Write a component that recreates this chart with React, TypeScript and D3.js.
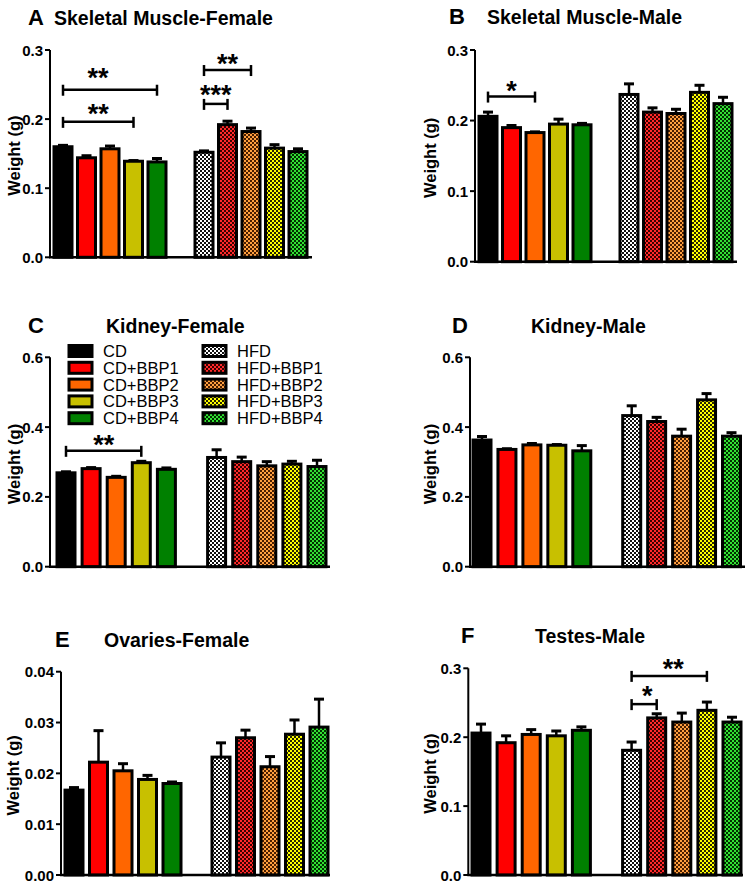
import React from "react";
import * as d3 from "d3";

const groups = ["CD", "CD+BBP1", "CD+BBP2", "CD+BBP3", "CD+BBP4", "HFD", "HFD+BBP1", "HFD+BBP2", "HFD+BBP3", "HFD+BBP4"];
const slots = [...groups.slice(0, 5), "gap", ...groups.slice(5)];

const muscleFemaleMean = [0.160, 0.144, 0.157, 0.139, 0.138, 0.152, 0.192, 0.182, 0.158, 0.153];
const muscleFemaleSem = [0.002, 0.003, 0.004, 0.001, 0.005, 0.002, 0.005, 0.005, 0.005, 0.004];
const muscleMaleMean = [0.206, 0.190, 0.183, 0.195, 0.194, 0.237, 0.212, 0.210, 0.240, 0.224];
const muscleMaleSem = [0.006, 0.003, 0.001, 0.007, 0.002, 0.015, 0.006, 0.006, 0.010, 0.009];
const kidneyFemaleMean = [0.269, 0.281, 0.256, 0.298, 0.279, 0.313, 0.301, 0.289, 0.294, 0.287];
const kidneyFemaleSem = [0.003, 0.003, 0.003, 0.004, 0.004, 0.022, 0.013, 0.012, 0.008, 0.018];
const kidneyMaleMean = [0.363, 0.336, 0.349, 0.348, 0.332, 0.433, 0.416, 0.374, 0.478, 0.374];
const kidneyMaleSem = [0.010, 0.002, 0.004, 0.002, 0.015, 0.028, 0.012, 0.020, 0.018, 0.010];
const ovariesMean = [0.0167, 0.0222, 0.0205, 0.0188, 0.0180, 0.0232, 0.0270, 0.0213, 0.0277, 0.0291];
const ovariesSem = [0.0005, 0.0062, 0.0014, 0.0008, 0.0003, 0.0028, 0.0015, 0.0020, 0.0028, 0.0055];
const testesMean = [0.206, 0.192, 0.204, 0.202, 0.210, 0.181, 0.228, 0.222, 0.239, 0.222];
const testesSem = [0.013, 0.010, 0.007, 0.007, 0.005, 0.012, 0.006, 0.013, 0.012, 0.007];

const ticks03 = [0, 0.1, 0.2, 0.3];
const ticks06 = [0, 0.2, 0.4, 0.6];
const ticks004 = [0, 0.01, 0.02, 0.03, 0.04];

const sigA = [
  { from: "CD", to: "CD+BBP4", y: 0.2425, label: "**", dx: -12, dy: -4 },
  { from: "CD", to: "CD+BBP3", y: 0.196, label: "**", dx: 0, dy: 0 },
  { from: "HFD", to: "HFD+BBP2", y: 0.271, label: "**", dx: 0, dy: 2 },
  { from: "HFD", to: "HFD+BBP1", y: 0.222, label: "***", dx: 0, dy: -1 },
];
const sigB = [{ from: "CD", to: "CD+BBP2", y: 0.234, label: "*", dx: 0, dy: 2 }];
const sigC = [{ from: "CD", to: "CD+BBP3", y: 0.332, label: "**", dx: 0, dy: 2 }];
const sigF = [
  { from: "HFD", to: "HFD+BBP3", y: 0.289, label: "**", dx: 4, dy: 1 },
  { from: "HFD", to: "HFD+BBP1", y: 0.248, label: "*", dx: 3, dy: 0 },
];

const solidColors = ["#000000", "#ff0000", "#ff6600", "#c8c000", "#008000"];
const hatchColors = ["#ffffff", "#ff2a2a", "#ffa040", "#ffff00", "#33e033"];
const hatchDarks = ["#111111", "#3a0000", "#4a1e00", "#262600", "#003000"];

const panels = [
  { letter: "A", title: "Skeletal Muscle-Female", mean: muscleFemaleMean, sem: muscleFemaleSem, ticks: ticks03, fmt: ".1f", sig: sigA,
    axisX: 50, yTop: 50, yBottom: 257.3, max: 0.3, firstCenter: 63, slot: 23.5, axisEnd: 312, letterX: 28, titleX: 54, titleY: 25, labelX: 14 },
  { letter: "B", title: "Skeletal Muscle-Male", mean: muscleMaleMean, sem: muscleMaleSem, ticks: ticks03, fmt: ".1f", sig: sigB,
    axisX: 475, yTop: 50, yBottom: 261.7, max: 0.3, firstCenter: 488, slot: 23.5, axisEnd: 737, letterX: 449, titleX: 487, titleY: 24, labelX: 430 },
  { letter: "C", title: "Kidney-Female", mean: kidneyFemaleMean, sem: kidneyFemaleSem, ticks: ticks06, fmt: ".1f", sig: sigC,
    axisX: 50, yTop: 357.3, yBottom: 566.7, max: 0.6, firstCenter: 66, slot: 25.1, axisEnd: 330, letterX: 28, titleX: 106, titleY: 333, labelX: 14 },
  { letter: "D", title: "Kidney-Male", mean: kidneyMaleMean, sem: kidneyMaleSem, ticks: ticks06, fmt: ".1f", sig: [],
    axisX: 470, yTop: 357.3, yBottom: 566.7, max: 0.6, firstCenter: 482, slot: 24.95, axisEnd: 745, letterX: 452, titleX: 531, titleY: 332.7, labelX: 430 },
  { letter: "E", title: "Ovaries-Female", mean: ovariesMean, sem: ovariesSem, ticks: ticks004, fmt: ".2f", sig: [],
    axisX: 61, yTop: 671.7, yBottom: 875, max: 0.04, firstCenter: 74, slot: 24.5, axisEnd: 330, letterX: 55, titleX: 104, titleY: 646.7, labelX: 12.5 },
  { letter: "F", title: "Testes-Male", mean: testesMean, sem: testesSem, ticks: ticks03, fmt: ".1f", sig: sigF,
    axisX: 468.3, yTop: 668.3, yBottom: 875, max: 0.3, firstCenter: 481, slot: 25.1, axisEnd: 743, letterX: 461, titleX: 535, titleY: 643.3, labelX: 430 },
];

const FONT = "'Liberation Sans', Arial, Helvetica, sans-serif";
const BAR_W = 18;

function fillFor(i: number) {
  return i < 5 ? solidColors[i] : `url(#hatch${i - 5})`;
}

function Panel({ p }: { p: any }) {
  const x = d3
    .scaleBand<string>()
    .domain(slots)
    .range([p.firstCenter - p.slot / 2, p.firstCenter + p.slot * 10.5])
    .paddingInner(1 - BAR_W / p.slot)
    .paddingOuter((1 - BAR_W / p.slot) / 2);
  const y = d3.scaleLinear().domain([0, p.max]).range([p.yBottom, p.yTop]);
  const fmt = d3.format(p.fmt);
  const bw = x.bandwidth();
  const cx = (g: string) => (x(g) as number) + bw / 2;
  return (
    <g>
      <text x={p.letterX} y={p.titleY} fontFamily={FONT} fontWeight="bold" fontSize={22}>{p.letter}</text>
      <text x={p.titleX} y={p.titleY} fontFamily={FONT} fontWeight="bold" fontSize={19.5}>{p.title}</text>
      <text
        transform={`translate(${p.labelX},${(p.yTop + p.yBottom) / 2 + 2}) rotate(-90)`}
        textAnchor="middle"
        dominantBaseline="central"
        fontFamily={FONT}
        fontWeight="bold"
        fontSize={16.5}
      >
        Weight (g)
      </text>
      {groups.map((g, i) => {
        const v = p.mean[i];
        const top = y(v);
        const errTop = y(v + p.sem[i]);
        const c = cx(g);
        return (
          <g key={g}>
            <line x1={c} x2={c} y1={top} y2={errTop} stroke="#000" strokeWidth={2.5} />
            <line x1={c - 5} x2={c + 5} y1={errTop} y2={errTop} stroke="#000" strokeWidth={3} />
            <rect x={x(g)} y={top} width={bw} height={y(0) - top} fill={fillFor(i)} stroke="#000" strokeWidth={3} />
          </g>
        );
      })}
      <line x1={p.axisX} x2={p.axisX} y1={p.yTop} y2={p.yBottom} stroke="#000" strokeWidth={2} />
      <line x1={p.axisX - 1} x2={p.axisEnd} y1={p.yBottom} y2={p.yBottom} stroke="#000" strokeWidth={2.5} />
      {p.ticks.map((t: number) => (
        <g key={t}>
          <line x1={p.axisX - 5} x2={p.axisX} y1={y(t)} y2={y(t)} stroke="#000" strokeWidth={2} />
          <text
            x={p.axisX - 7}
            y={y(t)}
            textAnchor="end"
            dominantBaseline="central"
            fontFamily={FONT}
            fontWeight="bold"
            fontSize={15}
          >
            {fmt(t)}
          </text>
        </g>
      ))}
      {p.sig.map((s: any, k: number) => {
        const x1 = cx(s.from);
        const x2 = cx(s.to);
        const yy = y(s.y);
        return (
          <g key={k}>
            <line x1={x1} x2={x2} y1={yy} y2={yy} stroke="#000" strokeWidth={2.5} />
            <line x1={x1} x2={x1} y1={yy - 5} y2={yy + 6} stroke="#000" strokeWidth={2.5} />
            <line x1={x2} x2={x2} y1={yy - 5} y2={yy + 6} stroke="#000" strokeWidth={2.5} />
            <text
              x={(x1 + x2) / 2 + s.dx}
              y={yy + 1 + s.dy}
              textAnchor="middle"
              fontFamily={FONT}
              fontWeight="bold"
              fontSize={27}
            >
              {s.label}
            </text>
          </g>
        );
      })}
    </g>
  );
}

function Legend() {
  const rowY = (i: number) => 351 + i * 16.8;
  return (
    <g>
      {groups.map((g, i) => {
        const col = i < 5 ? 0 : 1;
        const r = i % 5;
        const sx = col === 0 ? 69 : 203;
        const tx = col === 0 ? 103 : 237;
        return (
          <g key={g}>
            <rect x={sx} y={rowY(r) - 5.5} width={23} height={11} fill={fillFor(i)} stroke="#000" strokeWidth={3} />
            <text x={tx} y={rowY(r) + 6} fontFamily={FONT} fontSize={16.5}>{g}</text>
          </g>
        );
      })}
    </g>
  );
}

export default function App() {
  return (
    <svg
      width={750}
      height={891}
      viewBox="0 0 750 891"
      style={{ position: "absolute", left: 0, top: 0, background: "#fff" }}
    >
      <defs>
        {hatchColors.map((c, i) => (
          <pattern key={i} id={`hatch${i}`} width={4} height={4} patternUnits="userSpaceOnUse">
            <rect x={0} y={0} width={4} height={4} fill={c} />
            <rect x={2} y={0} width={2} height={2} fill={hatchDarks[i]} />
            <rect x={0} y={2} width={2} height={2} fill={hatchDarks[i]} />
          </pattern>
        ))}
      </defs>
      <rect x={0} y={0} width={750} height={891} fill="#fff" />
      {panels.map((p) => (
        <Panel key={p.letter} p={p} />
      ))}
      <Legend />
    </svg>
  );
}
